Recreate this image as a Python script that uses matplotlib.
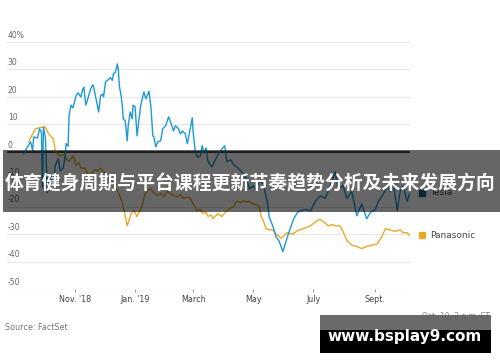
import numpy as np
import pandas as pd
import matplotlib
matplotlib.use('Agg')
import matplotlib.pyplot as plt
from matplotlib.patches import Rectangle
from matplotlib.transforms import blended_transform_factory

start = pd.Timestamp('2018-09-10')

# days since start / percent change
tesla_days = [0, 4, 7, 9, 10, 14, 16, 18, 19, 20, 22, 24, 27, 30, 32, 35, 37, 40, 42, 43,
              45, 46, 48, 50, 53, 55, 58, 60, 61, 63, 65, 68, 70, 71, 73, 75, 76, 78, 80, 81,
              83, 85, 88, 90, 91, 93, 95, 96, 97, 99, 100, 101, 103, 105, 106, 108, 110, 111, 113, 115,
              117, 119, 122, 124, 126, 127, 129, 131, 132, 134, 136, 139, 141, 144, 147, 149, 152, 154, 157, 159,
              161, 164, 166, 167, 169, 171, 172, 174, 176, 179, 181, 183, 185, 187, 191, 195, 198, 202, 204, 206,
              208, 210, 213, 216, 219, 223, 226, 229, 233, 236, 239, 243, 246, 248, 249, 253, 256, 259, 263, 268,
              274, 278, 281, 286, 291, 296, 301, 306, 311, 316, 319, 324, 328, 333, 338, 343, 348, 352, 357, 360,
              364, 369, 372, 375, 379, 382, 385, 389, 392]
tesla = [-0.7, 2, 3.6, 0.4, 5.4, 5, 8.4, 7, -13, 9, 5, -15, -8, -12, -5, -2.5, -7, -6, -2, 3,
         2, 13, 17, 16, 20.4, 21.5, 20, 23, 23.5, 17, 19.3, 23, 24.4, 23.5, 20, 16.4, 14.5, 20.4, 21, 20,
         25.5, 26, 27, 26, 28.4, 29, 32, 30, 24, 20, 16.7, 12, 11.3, 4, 9.5, 14.5, 12, 17, 16.4, 5.8,
         12, 17.5, 21.8, 19.3, 21, 22, 16.7, 5.8, 5.4, 1.8, 3.6, 4, 8.4, 9.5, 12.7, 10.9, 7.6, 9.5, 8.4, 6.5,
         7.6, 6.5, 2.9, 4.7, 8.4, 12.4, 7, 0.4, -1.8, -1.8, 2.2, -0.4, 1.4, -3.6, -5.5, -2.5, -0.4, 1.4, 2.2, -3.6,
         -3.3, -2.9, -4.7, -5.5, -6.5, -8, -9.8, -13.5, -12.4, -14, -10.5, -11.6, -16.4, -20, -23.6, -27.3, -31, -32.4, -36.4, -30.5,
         -24.4, -22, -21.5, -21, -21.5, -18, -16, -17, -12.4, -7.3, -13.5, -12.4, -17, -14.5, -23.3, -19, -24.4, -22, -21, -18,
         -16, -12.4, -14.5, -11, -21.5, -14.5, -12.4, -18, -15]

pana_days = [5, 7, 9, 12, 15, 19, 22, 24, 27, 30, 32, 34, 37, 40, 43, 46, 50, 51, 53, 56,
             58, 62, 66, 69, 72, 75, 78, 82, 85, 88, 92, 95, 99, 102, 105, 109, 112, 115, 120, 123,
             126, 129, 132, 136, 139, 142, 146, 149, 152, 156, 159, 162, 166, 169, 172, 176, 179, 182, 185, 187,
             190, 192, 197, 201, 206, 210, 213, 216, 220, 223, 226, 229, 232, 234, 237, 239, 241, 243, 246, 249,
             253, 256, 258, 261, 263, 267, 273, 278, 284, 291, 298, 301, 306, 309, 313, 316, 321, 324, 328, 333,
             338, 343, 348, 354, 359, 364, 367, 372, 377, 382, 385, 389, 392]
panasonic = [3.6, 5, 6.5, 8.4, 8.7, 9, 9, 7.3, 5.8, 4.7, 0.4, -0.7, -1.5, -1, -2.5, -3.6, -1.5, -2.5, -5, -4,
             -6, -6, -8.5, -8, -6.5, -7, -6, -7.5, -9, -10, -12.7, -14, -17.5, -21.5, -27, -22.5, -21.5, -23.6, -20, -15.3,
             -14, -13.5, -15, -16, -15, -16.4, -14.5, -15.3, -16, -16.4, -15.5, -17, -16.5, -17, -19, -21.5, -21, -22.5, -22, -23.6,
             -23, -24.4, -22.5, -23.6, -21.5, -20.5, -20, -18, -18.5, -17.8, -18.3, -18, -19, -19, -19.5, -20, -23.6, -25, -28, -28.4,
             -28.5, -30, -30.5, -31.5, -31, -29.5, -30, -28.7, -28, -27, -25, -24.6, -26, -27, -26.5, -27, -27, -29, -32.4, -34,
             -34.5, -35.3, -34.5, -34, -33.5, -30.5, -28, -28.5, -29, -28.5, -29.5, -29.5, -30.5]

y_ticks = [40, 30, 20, 10, 0, -10, -20, -30, -40, -50]
y_labels = ['40%', '30', '20', '10', '0', '-10', '-20', '-30', '-40', '-50']
x_ticks = ['2018-11-01', '2019-01-01', '2019-03-01', '2019-05-01', '2019-07-01', '2019-09-01']
x_labels = ["Nov. '18", "Jan. '19", 'March', 'May', 'July', 'Sept.']
title = '体育健身周期与平台课程更新节奏趋势分析及未来发展方向'

tesla_dates = start + pd.to_timedelta(tesla_days, unit='D')
pana_dates = start + pd.to_timedelta(pana_days, unit='D')

blue = '#1c9ad6'
orange = '#e9a82a'

fig = plt.figure(figsize=(5, 3.62), dpi=100)
ax = fig.add_axes([7/500, 1 - 289/362, 403/500, 247/362])

ax.set_ylim(-50, 40)
ax.set_xlim(start - pd.Timedelta(days=17), start + pd.Timedelta(days=392))
for s in ax.spines.values():
    s.set_visible(False)

for t in y_ticks:
    if t == 0:
        ax.axhline(t, color='#444444', lw=1.4, zorder=1)
    else:
        ax.axhline(t, color='#e8e8e8', lw=0.8, zorder=0)

trans = blended_transform_factory(ax.transAxes, ax.transData)
for t, lab in zip(y_ticks, y_labels):
    ax.text(0.002, t + 0.8, lab, transform=trans, ha='left', va='bottom',
            fontsize=5.5, color='#666666')
ax.set_yticks([])

ax.plot(pana_dates, panasonic, color=orange, lw=1.0, zorder=2)
ax.plot(tesla_dates, tesla, color=blue, lw=1.0, zorder=3)

ax.set_xticks(pd.to_datetime(x_ticks))
ax.set_xticklabels(x_labels)
ax.tick_params(axis='x', length=2, width=0.6, color='#888888', labelsize=5.8,
               labelcolor='#444444', pad=2)

# legend at line ends
ax.plot([1.03], [-15], transform=trans, marker='s', ms=4, color='#1d5f8a', clip_on=False)
ax.text(1.05, -15, 'Tesla', transform=trans, va='center', fontsize=6.5, color='#444444')
ax.plot([1.03], [-30.5], transform=trans, marker='s', ms=4, color=orange, clip_on=False)
ax.text(1.05, -30.5, 'Panasonic', transform=trans, va='center', fontsize=6.5, color='#444444')

fig.text(5/500, 1 - 328/362, 'Source: FactSet', fontsize=5.8, color='#777777', va='center')
fig.text(490/500, 1 - 316/362, 'Oct. 10, 2 a.m. ET', fontsize=5.5, color='#888888',
         ha='right', va='center')

# overlay banner
fig.patches.append(Rectangle((3/500, 1 - 212/362), 497/500, 62/362, transform=fig.transFigure,
                             facecolor='black', alpha=0.6, edgecolor='none', zorder=10))
fig.text(250/500, 1 - 184/362, title, ha='center', va='center', color='white',
         fontsize=13.6, fontweight='bold', family=['Noto Sans CJK SC', 'DejaVu Sans'], zorder=11)

# watermark box
fig.patches.append(Rectangle((320/500, 1 - 330/362), 171/500, 15/362, transform=fig.transFigure,
                             facecolor='#5a5a5a', alpha=0.9, edgecolor='none', zorder=10))
fig.patches.append(Rectangle((320/500, 1 - 353/362), 171/500, 23/362, transform=fig.transFigure,
                             facecolor='black', edgecolor='none', zorder=10))
fig.text(405/500, 1 - 337/362, 'www.bsplay9.com', ha='center', va='center', color='white',
         fontsize=11, fontweight='bold', zorder=11)

fig.savefig('out.png', dpi=100)
